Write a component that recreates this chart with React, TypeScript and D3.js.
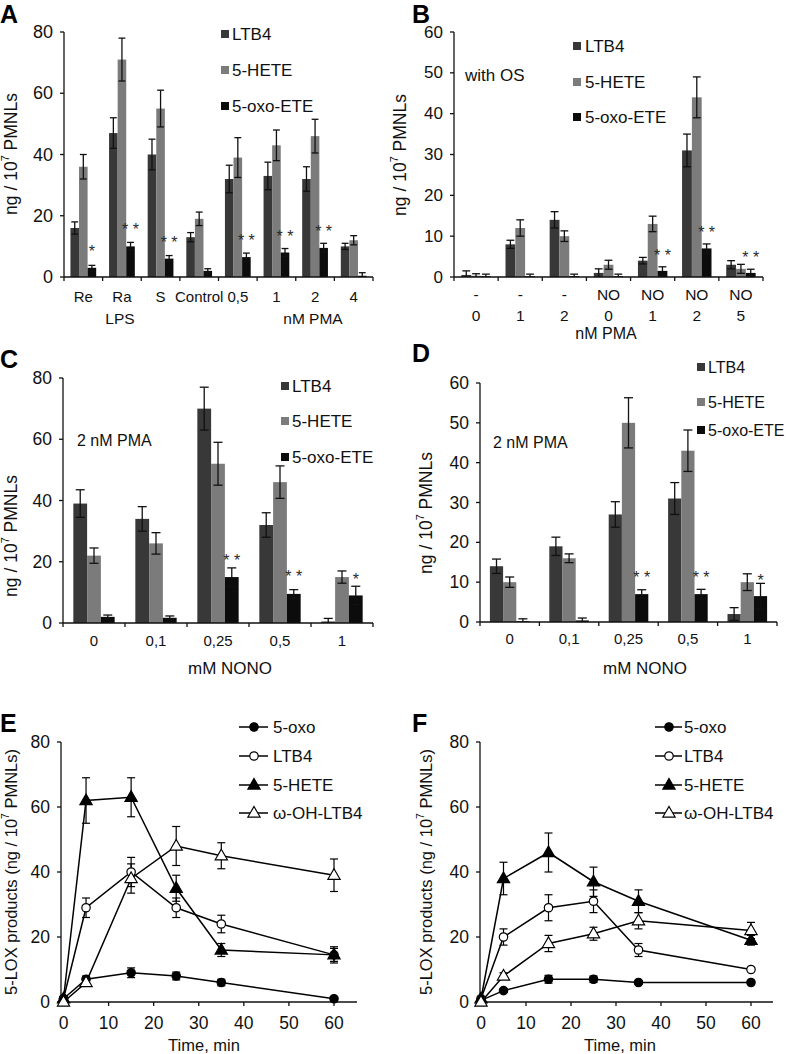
import React from 'react';
import * as d3 from 'd3';

const FONT = '"Liberation Sans", Arial, Helvetica, sans-serif';

// ---------- bar series ----------
const seriesNames = ['LTB4', '5-HETE', '5-oxo-ETE'];
const seriesColors = ['#383838', '#7b7b7b', '#0c0c0c'];

// Panel A
const aCategories = ['Re', 'Ra', 'S', 'Control', '0,5', '1', '2', '4'];
const aLTB4 = [16, 47, 40, 13, 32, 33, 32, 10];
const aLTB4Err = [2, 5, 5, 1.5, 4.5, 4.5, 4, 1];
const aHETE = [36, 71, 55, 19, 39, 43, 46, 12];
const aHETEErr = [4, 7, 6, 2.2, 6.5, 5, 5.5, 1.5];
const aOxo = [3, 10, 6, 2, 6.5, 8, 9.5, 0.4];
const aOxoErr = [0.8, 1.3, 1, 0.7, 1.3, 1.3, 1.5, 1];
const aStars = ['*', '* *', '* *', '', '* *', '* *', '* *', ''];
const aStarY = [9.4, 16.5, 12.3, 0, 13, 14.3, 15.9, 0];
const aTicks = [0, 20, 40, 60, 80];

// Panel B
const bRow1 = ['-', '-', '-', 'NO', 'NO', 'NO', 'NO'];
const bRow2 = ['0', '1', '2', '0', '1', '2', '5'];
const bLTB4 = [0.5, 8, 14, 1, 4, 31, 3];
const bLTB4Err = [1, 1, 2, 1, 0.8, 4, 1];
const bHETE = [0.3, 12, 10, 3, 13, 44, 2];
const bHETEErr = [0.5, 2, 1.3, 1.1, 1.9, 5, 1.1];
const bOxo = [0.2, 0.2, 0.2, 0.2, 1.5, 7, 1];
const bOxoErr = [0.5, 0.5, 0.5, 0.5, 1, 1.1, 0.9];
const bStars = ['', '', '', '', '* *', '* *', '* *'];
const bStarY = [0, 0, 0, 0, 6.1, 11.8, 5.7];
const bTicks = [0, 10, 20, 30, 40, 50, 60];

// Panel C
const cCategories = ['0', '0,1', '0,25', '0,5', '1'];
const cLTB4 = [39, 34, 70, 32, 0.5];
const cLTB4Err = [4.5, 4, 7, 4, 1];
const cHETE = [22, 26, 52, 46, 15];
const cHETEErr = [2.5, 3.5, 7, 5.3, 2];
const cOxo = [2, 1.7, 15, 9.5, 9];
const cOxoErr = [0.6, 0.6, 3, 1.4, 3];
const cStars = ['', '', '* *', '* *', '*'];
const cStarY = [0, 0, 21.4, 16.3, 15.2];
const cTicks = [0, 20, 40, 60, 80];

// Panel D
const dCategories = ['0', '0,1', '0,25', '0,5', '1'];
const dLTB4 = [14, 19, 27, 31, 2];
const dLTB4Err = [1.8, 2.3, 3.2, 4, 1.6];
const dHETE = [10, 16, 50, 43, 10];
const dHETEErr = [1.3, 1.1, 6.3, 5.2, 2.1];
const dOxo = [0.2, 0.4, 7, 7, 6.5];
const dOxoErr = [0.6, 0.6, 1.1, 1.2, 3.2];
const dStars = ['', '', '* *', '* *', '*'];
const dStarY = [0, 0, 12, 12, 11.4];
const dTicks = [0, 10, 20, 30, 40, 50, 60];

// ---------- time courses ----------
const lineNames = ['5-oxo', 'LTB4', '5-HETE', 'ω-OH-LTB4'];
const lineMarkers = ['filledCircle', 'openCircle', 'filledTriangle', 'openTriangle'];
const timePoints = [0, 5, 15, 25, 35, 60];
const timeTicks = [0, 10, 20, 30, 40, 50, 60];
const lineYTicks = [0, 20, 40, 60, 80];

const eOxo = [1, 7, 9, 8, 6, 1];
const eOxoErr = [0.5, 1, 1.5, 1.2, 1, 0.5];
const eLTB4 = [1, 29, 40, 29, 24, 14.5];
const eLTB4Err = [0.5, 3, 4.5, 3, 2.7, 2];
const eHETE = [1, 62, 63, 35, 16, 14.5];
const eHETEErr = [0.5, 7, 6, 4, 2, 2.5];
const eOH = [0, 6, 38, 48, 45, 39];
const eOHErr = [0.5, 1, 4.5, 6, 4, 5];

const fOxo = [0.5, 3.5, 7, 7, 6, 6];
const fOxoErr = [0.3, 0.5, 1.2, 1, 0.5, 0.5];
const fLTB4 = [1, 20, 29, 31, 16, 10];
const fLTB4Err = [0.5, 2.5, 4, 3.5, 2, 0.5];
const fHETE = [1, 38, 46, 37, 31, 19];
const fHETEErr = [0.5, 5, 6, 4.5, 3.5, 1.5];
const fOH = [0, 8, 18, 21, 25, 22];
const fOHErr = [0.5, 1, 2.5, 2, 2.5, 2.5];

type TextItem = { text: string; x: number; y: number; anchor?: string; size?: number };

type BarCfg = {
  x0: number; x1: number; yBottom: number; yTop: number; yMax: number; ticks: number[];
  rows: string[][]; rowY: number[]; values: number[][]; errors: number[][];
  stars: string[]; starY: number[];
  legendSqX: number; legendTextX: number; legendY: number[]; legendSize: number;
  tickSize: number; catSize: number;
  yLabelX: number; yLabelY: number; extra: TextItem[];
};

function YLabel({ x, y, pre, post, size }: { x: number; y: number; pre: string; post: string; size: number }) {
  return (
    <text transform={`translate(${x},${y}) rotate(-90)`} textAnchor="middle" dominantBaseline="central"
      fontSize={size} fontFamily={FONT} fill="#111">
      {pre}
      <tspan dy={-6} fontSize={size * 0.62}>7</tspan>
      <tspan dy={6}>{post}</tspan>
    </text>
  );
}

function BarPanel({ cfg }: { cfg: BarCfg }) {
  const n = cfg.values[0].length;
  const idx = d3.range(n).map(String);
  const x = d3.scaleBand<string>().domain(idx).range([cfg.x0, cfg.x1]).paddingInner(0).paddingOuter(0);
  const xs = d3.scaleBand<string>().domain(seriesNames).range([0, x.bandwidth()]).paddingInner(0).paddingOuter(0.75);
  const y = d3.scaleLinear().domain([0, cfg.yMax]).range([cfg.yBottom, cfg.yTop]);
  const bw = xs.bandwidth();
  const cap = Math.min(bw * 0.4, 4.5);
  const boundaries = d3.range(n + 1).map(i => cfg.x0 + i * x.step());
  return (
    <g fontFamily={FONT}>
      {cfg.values.map((vals, s) =>
        vals.map((v, i) => (
          <rect key={`b${s}-${i}`} x={(x(String(i)) as number) + (xs(seriesNames[s]) as number)}
            y={y(v)} width={bw} height={y(0) - y(v)} fill={seriesColors[s]} />
        ))
      )}
      {cfg.values.map((vals, s) =>
        vals.map((v, i) => {
          const cx = (x(String(i)) as number) + (xs(seriesNames[s]) as number) + bw / 2;
          const e = cfg.errors[s][i];
          const hi = y(v + e);
          const lo = y(Math.max(0, v - e));
          return (
            <g key={`e${s}-${i}`} stroke="#111" strokeWidth={1.3}>
              <line x1={cx} x2={cx} y1={hi} y2={lo} />
              <line x1={cx - cap} x2={cx + cap} y1={hi} y2={hi} />
              {v - e > 0 && <line x1={cx - cap} x2={cx + cap} y1={lo} y2={lo} />}
            </g>
          );
        })
      )}
      {cfg.stars.map((st, i) => st ? (
        <text key={`s${i}`} x={(x(String(i)) as number) + (xs(seriesNames[2]) as number) + bw / 2}
          y={y(cfg.starY[i]) + 9} textAnchor="middle" fontSize={16} fill="#2a2a2a">{st}</text>
      ) : null)}
      {/* axes */}
      <line x1={cfg.x0} x2={cfg.x0} y1={cfg.yTop} y2={cfg.yBottom} stroke="#111" strokeWidth={1.3} />
      <line x1={cfg.x0} x2={cfg.x1} y1={cfg.yBottom} y2={cfg.yBottom} stroke="#111" strokeWidth={1.3} />
      {cfg.ticks.map(t => (
        <g key={`t${t}`}>
          <line x1={cfg.x0 - 4} x2={cfg.x0} y1={y(t)} y2={y(t)} stroke="#111" strokeWidth={1.3} />
          <text x={cfg.x0 - 11} y={y(t)} textAnchor="end" dominantBaseline="central" fontSize={cfg.tickSize} fill="#111">{t}</text>
        </g>
      ))}
      {boundaries.map((bx, i) => (
        <line key={`xb${i}`} x1={bx} x2={bx} y1={cfg.yBottom} y2={cfg.yBottom + 4} stroke="#111" strokeWidth={1.3} />
      ))}
      {cfg.rows.map((row, r) => row.map((lab, i) => (
        <text key={`c${r}-${i}`} x={(x(String(i)) as number) + x.bandwidth() / 2} y={cfg.rowY[r]}
          textAnchor="middle" dominantBaseline="central" fontSize={cfg.catSize} fill="#111">{lab}</text>
      )))}
      {cfg.extra.map((t, i) => (
        <text key={`x${i}`} x={t.x} y={t.y} textAnchor={t.anchor || 'middle'} dominantBaseline="central"
          fontSize={t.size || 16} fill="#111">{t.text}</text>
      ))}
      {seriesNames.map((nm, s) => (
        <g key={`l${s}`}>
          <rect x={cfg.legendSqX} y={cfg.legendY[s] - 4} width={8} height={8} fill={seriesColors[s]} />
          <text x={cfg.legendTextX} y={cfg.legendY[s]} dominantBaseline="central" fontSize={cfg.legendSize} fill="#111">{nm}</text>
        </g>
      ))}
      <YLabel x={cfg.yLabelX} y={cfg.yLabelY} pre="ng / 10" post=" PMNLs" size={17.5} />
    </g>
  );
}

type LineCfg = {
  yAxisX: number; xZero: number; xSixty: number; xEnd: number; yBottom: number; yTop: number;
  series: number[][]; errors: number[][];
  legLine0: number; legLine1: number; legMark: number; legText: number; legY: number[];
  yLabelX: number; titleX: number;
};

function Marker({ kind, x, y }: { kind: string; x: number; y: number }) {
  const filled = kind.startsWith('filled');
  const fill = filled ? '#000' : '#fff';
  if (kind.endsWith('Circle')) {
    return <circle cx={x} cy={y} r={4.2} fill={fill} stroke="#000" strokeWidth={1.2} />;
  }
  const p = d3.symbol().type(d3.symbolTriangle).size(65)() as string;
  return <path d={p} transform={`translate(${x},${y + 0.5})`} fill={fill} stroke="#000" strokeWidth={1.2} />;
}

function LinePanel({ cfg }: { cfg: LineCfg }) {
  const x = d3.scaleLinear().domain([0, 60]).range([cfg.xZero, cfg.xSixty]);
  const y = d3.scaleLinear().domain([0, 80]).range([cfg.yBottom, cfg.yTop]);
  const line = d3.line<number>().x((_, i) => x(timePoints[i])).y(d => y(d));
  const cap = 4;
  return (
    <g fontFamily={FONT}>
      <line x1={cfg.yAxisX} x2={cfg.yAxisX} y1={cfg.yTop} y2={cfg.yBottom} stroke="#111" strokeWidth={1.3} />
      <line x1={cfg.yAxisX - 2} x2={cfg.xEnd} y1={cfg.yBottom} y2={cfg.yBottom} stroke="#111" strokeWidth={1.3} />
      {lineYTicks.map(t => (
        <g key={`yt${t}`}>
          <line x1={cfg.yAxisX - 4} x2={cfg.yAxisX} y1={y(t)} y2={y(t)} stroke="#111" strokeWidth={1.3} />
          <text x={cfg.yAxisX - 11} y={y(t)} textAnchor="end" dominantBaseline="central" fontSize={17.5} fill="#111">{t}</text>
        </g>
      ))}
      {timeTicks.map(t => (
        <g key={`xt${t}`}>
          <line x1={x(t)} x2={x(t)} y1={cfg.yBottom} y2={cfg.yBottom + 4} stroke="#111" strokeWidth={1.3} />
          <text x={x(t)} y={cfg.yBottom + 21} textAnchor="middle" dominantBaseline="central" fontSize={17.5} fill="#111">{t}</text>
        </g>
      ))}
      <text x={cfg.titleX} y={cfg.yBottom + 43} textAnchor="middle" dominantBaseline="central" fontSize={16.5} fill="#111">Time, min</text>
      {cfg.series.map((vals, s) => vals.map((v, i) => {
        const e = cfg.errors[s][i];
        const cx = x(timePoints[i]);
        const hi = y(v + e);
        const lo = y(Math.max(0, v - e));
        return (
          <g key={`e${s}-${i}`} stroke="#000" strokeWidth={1.2}>
            <line x1={cx} x2={cx} y1={hi} y2={lo} />
            <line x1={cx - cap} x2={cx + cap} y1={hi} y2={hi} />
            <line x1={cx - cap} x2={cx + cap} y1={lo} y2={lo} />
          </g>
        );
      }))}
      {cfg.series.map((vals, s) => (
        <path key={`l${s}`} d={line(vals) as string} fill="none" stroke="#000" strokeWidth={1.5} />
      ))}
      {cfg.series.map((vals, s) => vals.map((v, i) => (
        <Marker key={`m${s}-${i}`} kind={lineMarkers[s]} x={x(timePoints[i])} y={y(v)} />
      )))}
      {lineNames.map((nm, s) => (
        <g key={`lg${s}`}>
          <line x1={cfg.legLine0} x2={cfg.legLine1} y1={cfg.legY[s]} y2={cfg.legY[s]} stroke="#000" strokeWidth={1.5} />
          <Marker kind={lineMarkers[s]} x={cfg.legMark} y={cfg.legY[s]} />
          <text x={cfg.legText} y={cfg.legY[s]} dominantBaseline="central" fontSize={17} fill="#111">{nm}</text>
        </g>
      ))}
      <YLabel x={cfg.yLabelX} y={(cfg.yTop + cfg.yBottom) / 2} pre="5-LOX products (ng / 10" post=" PMNLs)" size={16.5} />
    </g>
  );
}

function Letter({ t, x, y }: { t: string; x: number; y: number }) {
  return <text x={x} y={y} fontFamily={FONT} fontWeight="bold" fontSize={25} fill="#000">{t}</text>;
}

export default function App() {
  const cfgA: BarCfg = {
    x0: 64, x1: 373, yBottom: 277, yTop: 32, yMax: 80, ticks: aTicks,
    rows: [aCategories], rowY: [296],
    values: [aLTB4, aHETE, aOxo], errors: [aLTB4Err, aHETEErr, aOxoErr],
    stars: aStars, starY: aStarY,
    legendSqX: 221, legendTextX: 232, legendY: [34, 70, 106], legendSize: 17,
    tickSize: 18, catSize: 15,
    yLabelX: 11, yLabelY: 154,
    extra: [{ text: 'LPS', x: 120, y: 318, size: 15.5 }, { text: 'nM PMA', x: 313, y: 318, size: 15.5 }],
  };
  const cfgB: BarCfg = {
    x0: 454, x1: 763, yBottom: 277, yTop: 32, yMax: 60, ticks: bTicks,
    rows: [bRow1, bRow2], rowY: [294, 315],
    values: [bLTB4, bHETE, bOxo], errors: [bLTB4Err, bHETEErr, bOxoErr],
    stars: bStars, starY: bStarY,
    legendSqX: 573, legendTextX: 585, legendY: [46, 82, 117], legendSize: 17,
    tickSize: 17, catSize: 15.5,
    yLabelX: 400, yLabelY: 155,
    extra: [{ text: 'nM PMA', x: 606, y: 333 }, { text: 'with OS', x: 465, y: 75, anchor: 'start', size: 17 }],
  };
  const cfgC: BarCfg = {
    x0: 63, x1: 373, yBottom: 623, yTop: 378, yMax: 80, ticks: cTicks,
    rows: [cCategories], rowY: [640],
    values: [cLTB4, cHETE, cOxo], errors: [cLTB4Err, cHETEErr, cOxoErr],
    stars: cStars, starY: cStarY,
    legendSqX: 281, legendTextX: 292, legendY: [386, 421, 457], legendSize: 17,
    tickSize: 17.5, catSize: 15,
    yLabelX: 11, yLabelY: 536,
    extra: [{ text: 'mM NONO', x: 230, y: 668, size: 17 }, { text: '2 nM PMA', x: 77, y: 440, anchor: 'start', size: 16 }],
  };
  const cfgD: BarCfg = {
    x0: 480, x1: 777, yBottom: 622, yTop: 383, yMax: 60, ticks: dTicks,
    rows: [dCategories], rowY: [638],
    values: [dLTB4, dHETE, dOxo], errors: [dLTB4Err, dHETEErr, dOxoErr],
    stars: dStars, starY: dStarY,
    legendSqX: 697, legendTextX: 708, legendY: [367, 402, 430], legendSize: 16,
    tickSize: 17.5, catSize: 15,
    yLabelX: 426, yLabelY: 513,
    extra: [{ text: 'mM NONO', x: 645, y: 668, size: 17 }, { text: '2 nM PMA', x: 493, y: 442, anchor: 'start', size: 16 }],
  };
  const cfgE: LineCfg = {
    yAxisX: 61, xZero: 63.5, xSixty: 334, xEnd: 357, yBottom: 1002, yTop: 742,
    series: [eOxo, eLTB4, eHETE, eOH], errors: [eOxoErr, eLTB4Err, eHETEErr, eOHErr],
    legLine0: 239, legLine1: 268, legMark: 254, legText: 273, legY: [727, 756, 785, 813],
    yLabelX: 11, titleX: 204,
  };
  const cfgF: LineCfg = {
    yAxisX: 480, xZero: 481, xSixty: 751, xEnd: 773, yBottom: 1002, yTop: 742,
    series: [fOxo, fLTB4, fHETE, fOH], errors: [fOxoErr, fLTB4Err, fHETEErr, fOHErr],
    legLine0: 655, legLine1: 682, legMark: 669, legText: 684, legY: [727, 756, 785, 813],
    yLabelX: 426, titleX: 620,
  };
  return (
    <svg width={786} height={1054} style={{ position: 'absolute', left: 0, top: 0, background: '#fff' }}>
      <rect x={0} y={0} width={786} height={1054} fill="#fff" />
      <BarPanel cfg={cfgA} />
      <BarPanel cfg={cfgB} />
      <BarPanel cfg={cfgC} />
      <BarPanel cfg={cfgD} />
      <LinePanel cfg={cfgE} />
      <LinePanel cfg={cfgF} />
      <Letter t="A" x={0} y={23} />
      <Letter t="B" x={412} y={23} />
      <Letter t="C" x={0} y={368} />
      <Letter t="D" x={412} y={362} />
      <Letter t="E" x={0} y={732} />
      <Letter t="F" x={412} y={732} />
    </svg>
  );
}
